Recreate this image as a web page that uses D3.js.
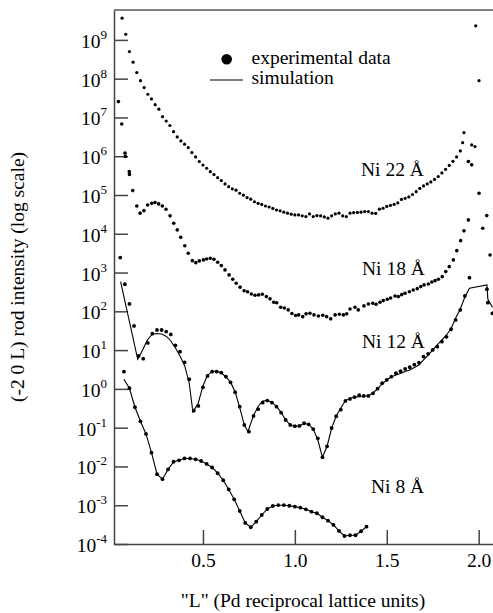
<!DOCTYPE html>
<html>
<head>
<meta charset="utf-8">
<script src="https://cdn.jsdelivr.net/npm/d3@7"></script>
<style>
    body { margin: 0; background: #fff; font-family: "Liberation Serif", "Times New Roman", Times, serif; }
    svg { display: block; }
    svg text { font-family: "Liberation Serif", "Times New Roman", Times, serif; }
</style>
</head>
<body>
<div id="chart"></div>
<script>

// ---- data: [L, intensity] ----

const ni22 = [
    [0.06, 3.63e9], [0.08, 1.40e9], [0.10, 5.0e8], [0.12, 2.66e8], [0.14, 1.44e8], [0.16, 8.9e7], [0.18, 5.9e7], [0.20, 3.97e7], [0.22, 3.0e7], [0.24, 2.14e7],
    [0.26, 1.63e7], [0.28, 1.05e7], [0.30, 8.1e6], [0.32, 6.2e6], [0.34, 4.3e6], [0.36, 3.15e6], [0.38, 2.48e6], [0.40, 2.04e6], [0.42, 1.67e6], [0.44, 1.24e6],
    [0.46, 9.6e5], [0.48, 7.3e5], [0.50, 5.9e5], [0.52, 4.9e5], [0.54, 4.0e5], [0.56, 3.36e5], [0.58, 2.8e5], [0.60, 2.35e5], [0.62, 1.93e5], [0.64, 1.64e5],
    [0.66, 1.44e5], [0.68, 1.33e5], [0.70, 1.11e5], [0.72, 9.9e4], [0.74, 8.6e4], [0.76, 7.8e4], [0.78, 6.7e4], [0.80, 6.1e4], [0.82, 5.7e4], [0.84, 5.2e4],
    [0.86, 4.9e4], [0.88, 4.5e4], [0.90, 4.1e4], [0.92, 3.9e4], [0.94, 3.6e4], [0.96, 3.4e4], [0.98, 3.2e4], [1.00, 3.06e4], [1.02, 3.06e4], [1.04, 2.9e4],
    [1.06, 2.77e4], [1.08, 3.25e4], [1.10, 2.77e4], [1.12, 2.94e4], [1.14, 2.9e4], [1.16, 2.72e4], [1.18, 2.52e4], [1.20, 2.9e4], [1.22, 3.25e4], [1.24, 3.4e4],
    [1.26, 2.9e4], [1.28, 2.77e4], [1.30, 3.4e4], [1.32, 3.5e4], [1.34, 3.56e4], [1.36, 3.6e4], [1.38, 3.73e4], [1.40, 3.73e4], [1.42, 3.4e4], [1.44, 3.35e4],
    [1.46, 4.3e4], [1.48, 4.56e4], [1.50, 5.07e4], [1.52, 5.4e4], [1.54, 5.7e4], [1.56, 6.25e4], [1.58, 7.7e4], [1.60, 8.2e4], [1.62, 8.9e4], [1.64, 1.03e5],
    [1.66, 1.22e5], [1.68, 1.48e5], [1.70, 1.71e5], [1.72, 1.93e5], [1.74, 2.17e5], [1.76, 2.52e5], [1.78, 3.0e5], [1.80, 3.7e5], [1.82, 4.6e5], [1.84, 5.8e5],
    [1.86, 7.4e5], [1.88, 9.6e5], [1.90, 1.37e6], [1.913, 2.24e6], [1.92, 4.06e6],
    [1.962, 1.96e6], [1.98, 1.77e6], [1.984, 2.3e9], [2.002, 8.9e7]
];

const ni18 = [
    [0.04, 2.56e7], [0.058, 6.8e6], [0.076, 1.20e6], [0.078, 9.8e5], [0.099, 4.0e5], [0.10, 3.4e5], [0.118, 1.30e5],
    [0.14, 5.2e4], [0.158, 3.4e4], [0.179, 3.95e4], [0.199, 5.5e4], [0.221, 6.1e4], [0.239, 6.4e4], [0.259, 5.9e4], [0.279, 5.2e4], [0.299, 4.3e4],
    [0.321, 2.9e4], [0.341, 1.87e4], [0.36, 1.26e4], [0.379, 8.1e3], [0.401, 4.9e3], [0.42, 3.15e3], [0.442, 2.03e3], [0.461, 1.80e3], [0.48, 2.0e3],
    [0.502, 2.12e3], [0.52, 2.24e3], [0.54, 2.34e3], [0.56, 2.2e3], [0.58, 1.85e3], [0.60, 1.51e3], [0.62, 1.17e3], [0.642, 870], [0.662, 670],
    [0.681, 530], [0.702, 420], [0.724, 340], [0.743, 320], [0.763, 280], [0.783, 260], [0.803, 265], [0.823, 276], [0.845, 240], [0.865, 210],
    [0.885, 171], [0.901, 167], [0.923, 128], [0.943, 122], [0.964, 109], [0.984, 88], [1.004, 78], [1.021, 81], [1.043, 73], [1.061, 86],
    [1.082, 89], [1.104, 81], [1.128, 76], [1.152, 79], [1.173, 73], [1.195, 64], [1.219, 81], [1.242, 84], [1.264, 81], [1.282, 86],
    [1.300, 115], [1.327, 128], [1.345, 109], [1.376, 138], [1.400, 155], [1.424, 162], [1.442, 152], [1.463, 171], [1.481, 189], [1.503, 205],
    [1.521, 221], [1.545, 249], [1.563, 240], [1.581, 269], [1.599, 293], [1.623, 320], [1.644, 356], [1.666, 385], [1.685, 434], [1.703, 480],
    [1.726, 509], [1.745, 573], [1.763, 619], [1.781, 673], [1.802, 785], [1.821, 1060], [1.840, 1420], [1.862, 2120], [1.881, 3670], [1.902, 6650],
    [1.920, 1.19e4], [1.944, 2.28e4],
    [1.944, 7.3e5], [1.962, 6.0e5], [2.002, 1.11e5], [2.022, 1.39e4], [2.044, 2.94e4], [2.062, 2840]
];

const ni12 = [
    [0.05, 2430], [0.075, 500], [0.1, 155], [0.125, 42], [0.15, 7.1], [0.175, 6.0], [0.2, 15.3], [0.225, 26.6], [0.25, 33], [0.275, 33],
    [0.3, 30], [0.325, 25.4], [0.35, 13.3], [0.375, 9.1], [0.4, 4.8], [0.425, 1.77], [0.45, 0.275], [0.475, 0.363], [0.5, 1.10], [0.525, 2.16],
    [0.55, 2.78], [0.575, 2.78], [0.6, 2.62], [0.625, 2.07], [0.65, 1.48], [0.675, 0.82], [0.7, 0.348], [0.725, 0.117], [0.75, 0.079], [0.775, 0.20],
    [0.8, 0.30], [0.825, 0.44], [0.85, 0.50], [0.875, 0.44], [0.9, 0.348], [0.925, 0.244], [0.95, 0.158], [0.975, 0.117], [1.0, 0.109], [1.025, 0.111],
    [1.05, 0.130], [1.075, 0.122], [1.1, 0.092], [1.125, 0.053], [1.15, 0.0172], [1.175, 0.033], [1.2, 0.098], [1.225, 0.197], [1.25, 0.291], [1.275, 0.489],
    [1.3, 0.55], [1.325, 0.61], [1.35, 0.685], [1.375, 0.66], [1.4, 0.66], [1.425, 0.77], [1.45, 1.01], [1.475, 1.40], [1.5, 1.70], [1.525, 2.07],
    [1.55, 2.53], [1.575, 2.85], [1.6, 3.27], [1.625, 3.61], [1.65, 4.22], [1.675, 4.75], [1.7, 6.8], [1.725, 8.0], [1.75, 10.1], [1.775, 12.3],
    [1.8, 16.5], [1.825, 22], [1.85, 34.5], [1.875, 60], [1.9, 109], [1.925, 250], [1.95, 740], [2.045, 372], [2.05, 167], [2.075, 89]
];

const ni12Sim = [
    [0.052, 580], [0.145, 5.8], [0.172, 10.1], [0.197, 18.3], [0.223, 25.4], [0.248, 26.9], [0.276, 26.1], [0.301, 22.5], [0.325, 17.2], [0.352, 11.0],
    [0.375, 7.1], [0.401, 3.9], [0.425, 1.42], [0.445, 0.259], [0.473, 0.41], [0.5, 1.19], [0.524, 2.22], [0.549, 2.82], [0.575, 2.90], [0.6, 2.58],
    [0.625, 2.03], [0.651, 1.47], [0.676, 0.81], [0.702, 0.30], [0.725, 0.117], [0.745, 0.080], [0.774, 0.20], [0.8, 0.352], [0.825, 0.489], [0.85, 0.51],
    [0.876, 0.447], [0.901, 0.348], [0.926, 0.244], [0.95, 0.158], [0.975, 0.117], [1.0, 0.109], [1.025, 0.111], [1.05, 0.130], [1.075, 0.121], [1.1, 0.092],
    [1.125, 0.048], [1.15, 0.0172], [1.175, 0.0327], [1.2, 0.0966], [1.225, 0.20], [1.25, 0.322], [1.275, 0.50], [1.3, 0.566], [1.325, 0.62], [1.375, 0.638],
    [1.4, 0.668], [1.425, 0.785], [1.45, 0.995], [1.475, 1.34], [1.5, 1.70], [1.525, 2.03], [1.55, 2.29], [1.575, 2.50], [1.6, 2.82], [1.625, 3.08],
    [1.65, 3.57], [1.675, 4.14], [1.7, 5.57], [1.725, 7.28], [1.75, 10.1], [1.775, 13.6], [1.8, 18.3], [1.825, 24.6], [1.85, 36.2], [1.875, 67.6],
    [1.9, 115], [1.925, 235], [1.95, 394], [2.045, 480], [2.05, 205], [2.075, 128]
];

const ni8 = [
    [0.07, 2.78], [0.10, 1.04], [0.13, 0.336], [0.16, 0.146], [0.19, 0.0689], [0.22, 0.0227], [0.25, 0.00632], [0.28, 0.0047], [0.31, 0.00836], [0.34, 0.0132],
    [0.37, 0.0144], [0.40, 0.0161], [0.43, 0.0161], [0.46, 0.0153], [0.49, 0.0138], [0.52, 0.0116], [0.55, 0.0094], [0.58, 0.0067], [0.61, 0.0044], [0.64, 0.00255],
    [0.67, 0.00142], [0.70, 7.1e-4], [0.73, 3.5e-4], [0.76, 2.7e-4], [0.79, 3.77e-4], [0.82, 5.6e-4], [0.85, 8.0e-4], [0.88, 9.55e-4], [0.91, 1.01e-3], [0.94, 1.01e-3],
    [0.97, 9.7e-4], [1.00, 9.2e-4], [1.03, 8.65e-4], [1.06, 7.85e-4], [1.09, 6.8e-4], [1.12, 6.2e-4], [1.15, 4.9e-4], [1.18, 4.0e-4], [1.21, 3.1e-4], [1.24, 2.17e-4],
    [1.27, 1.61e-4], [1.30, 1.68e-4], [1.33, 1.68e-4], [1.36, 2.13e-4], [1.39, 2.8e-4]
];

const ni8Sim = [
    [0.07, 1.77], [0.10, 1.04], [0.13, 0.336], [0.16, 0.146], [0.19, 0.0689], [0.22, 0.0227], [0.25, 0.00632], [0.28, 0.0047], [0.31, 0.0084], [0.34, 0.0130],
    [0.37, 0.0146], [0.40, 0.0160], [0.43, 0.0160], [0.46, 0.0153], [0.49, 0.0138], [0.52, 0.0116], [0.55, 0.0094], [0.58, 0.0067], [0.61, 0.0044], [0.64, 0.00255],
    [0.67, 0.00142], [0.70, 7.1e-4], [0.73, 3.5e-4], [0.76, 2.7e-4], [0.79, 3.77e-4], [0.82, 5.6e-4], [0.85, 8.0e-4], [0.88, 9.55e-4], [0.91, 1.0e-3], [0.94, 1.0e-3],
    [0.97, 9.7e-4], [1.00, 9.2e-4], [1.03, 8.65e-4], [1.06, 7.85e-4], [1.09, 6.8e-4], [1.12, 6.2e-4], [1.15, 4.9e-4], [1.18, 4.0e-4], [1.21, 3.1e-4], [1.24, 2.17e-4],
    [1.27, 1.61e-4], [1.30, 1.68e-4], [1.33, 1.68e-4], [1.36, 2.13e-4], [1.39, 2.8e-4]
];

const yTicks = [1e-4, 1e-3, 1e-2, 1e-1, 1e0, 1e1, 1e2, 1e3, 1e4, 1e5, 1e6, 1e7, 1e8, 1e9];
const xTicks = [0.5, 1.0, 1.5, 2.0];
const legendLabels = ["experimental data", "simulation"];
const seriesNames = ["Ni 22 Å", "Ni 18 Å", "Ni 12 Å", "Ni 8 Å"];


// ---- layout ----

const W = 493, H = 613;
const plot = { left: 114, right: 493, top: 10, bottom: 544 };
const axisColor = "#444";
const fontSize = 19.5;
const serif = "'Liberation Serif', 'Times New Roman', Times, serif";

const svg = d3.select("#chart").append("svg")
    .attr("width", W)
    .attr("height", H)
    .attr("font-family", serif);

// Scales
const x = d3.scaleLinear()
    .domain([0.016, 2.078])
    .range([plot.left, plot.right]);

const y = d3.scaleLog()
    .domain([1e-4, 5.9e9])
    .range([plot.bottom, plot.top]);

// top frame line
svg.append("line")
    .attr("x1", plot.left).attr("x2", plot.right)
    .attr("y1", plot.top).attr("y2", plot.top)
    .attr("stroke", "#555")
    .attr("stroke-width", 1.6);

// y axis, ticks pointing inward, labels as 10^n
const yAxis = d3.axisLeft(y)
    .tickValues(yTicks)
    .tickSizeInner(-14)
    .tickSizeOuter(0)
    .tickPadding(7)
    .tickFormat("");

const gy = svg.append("g")
    .attr("transform", "translate(" + plot.left + ",0)")
    .call(yAxis)
    .attr("font-size", fontSize)
    .attr("font-family", serif);

gy.select(".domain").attr("stroke", axisColor).attr("stroke-width", 1.5);
gy.selectAll(".tick line").attr("stroke", axisColor).attr("stroke-width", 1.5);
gy.selectAll(".tick text")
    .attr("dy", null)
    .attr("y", 7.5)
    .attr("fill", "#000")
    .each(function(d) {
        let t = d3.select(this);
        t.append("tspan").text("10");
        t.append("tspan")
            .attr("dy", -9)
            .attr("font-size", 13)
            .text(Math.round(Math.log10(d)));
    });

// x axis
const xAxis = d3.axisBottom(x)
    .tickValues(xTicks)
    .tickSizeInner(-14)
    .tickSizeOuter(0)
    .tickFormat(d3.format(".1f"));

const gx = svg.append("g")
    .attr("transform", "translate(0," + plot.bottom + ")")
    .call(xAxis)
    .attr("font-size", fontSize)
    .attr("font-family", serif);

gx.select(".domain").attr("stroke", axisColor).attr("stroke-width", 1.5);
gx.selectAll(".tick line").attr("stroke", axisColor).attr("stroke-width", 1.5);
gx.selectAll(".tick text").attr("dy", null).attr("y", 22.5).attr("fill", "#000");

// simulation lines
const line = d3.line()
    .x(d => x(d[0]))
    .y(d => y(d[1]));

[ni12Sim, ni8Sim].forEach(s => {
    svg.append("path")
        .datum(s)
        .attr("d", line)
        .attr("fill", "none")
        .attr("stroke", "#000")
        .attr("stroke-width", 1.1);
});

// experimental points
const pointSets = [
    { data: ni22, r: 1.6 },
    { data: ni18, r: 1.8 },
    { data: ni12, r: 1.9 },
    { data: ni8, r: 1.9 }
];

pointSets.forEach(s => {
    svg.append("g")
        .selectAll("circle")
        .data(s.data)
        .join("circle")
        .attr("cx", d => x(d[0]))
        .attr("cy", d => y(d[1]))
        .attr("r", s.r)
        .attr("fill", "#000");
});

// series labels
const labelPos = [[361, 176], [362, 275], [362, 348], [371, 493]];
seriesNames.forEach((name, i) => {
    svg.append("text")
        .attr("x", labelPos[i][0])
        .attr("y", labelPos[i][1])
        .attr("font-size", fontSize)
        .text(name);
});

// legend
svg.append("circle")
    .attr("cx", 226.7).attr("cy", 59.3).attr("r", 5.3)
    .attr("fill", "#000");
svg.append("line")
    .attr("x1", 210).attr("x2", 243)
    .attr("y1", 80).attr("y2", 80)
    .attr("stroke", "#000").attr("stroke-width", 1.1);
legendLabels.forEach((t, i) => {
    svg.append("text")
        .attr("x", 251.5)
        .attr("y", 64 + i * 20)
        .attr("font-size", fontSize)
        .text(t);
});

// axis titles
svg.append("text")
    .attr("x", 303)
    .attr("y", 607)
    .attr("text-anchor", "middle")
    .attr("font-size", fontSize)
    .text("\"L\" (Pd reciprocal lattice units)");

svg.append("text")
    .attr("transform", "translate(24,277) rotate(-90)")
    .attr("text-anchor", "middle")
    .attr("font-size", fontSize)
    .text("(-2 0 L) rod intensity (log scale)");

</script>
</body>
</html>
